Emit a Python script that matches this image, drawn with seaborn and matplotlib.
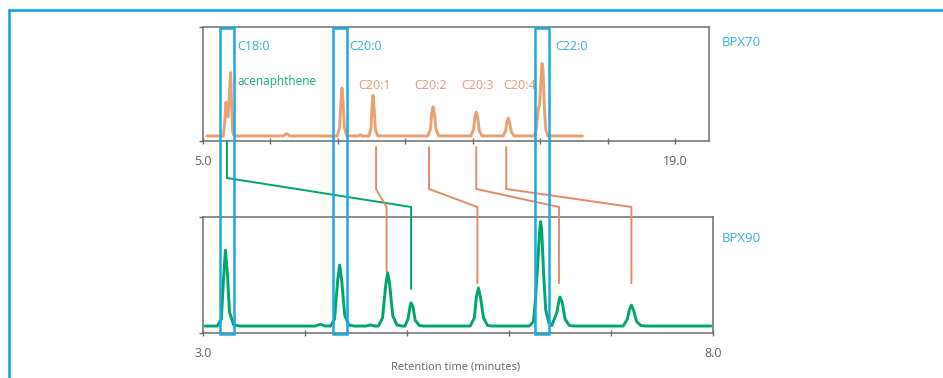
import matplotlib
matplotlib.use("Agg")
import matplotlib.pyplot as plt
import matplotlib.transforms as mtransforms
from matplotlib.lines import Line2D
from matplotlib.patches import Rectangle
import pandas as pd
import seaborn as sns

# ---------------- data ----------------
# BPX70 chromatogram (retention time in minutes, relative signal)
bpx70_time = [5.12, 5.60, 5.64, 5.68, 5.71, 5.74, 5.78, 5.82, 5.85, 5.88, 5.92,
              7.38, 7.45, 7.49, 7.55, 7.62,
              8.98, 9.05, 9.09, 9.12, 9.15, 9.19, 9.26,
              9.60, 9.66, 9.72,
              9.92, 9.98, 10.01, 10.04, 10.07, 10.11, 10.18,
              11.66, 11.74, 11.78, 11.82, 11.86, 11.91, 11.99,
              12.94, 13.02, 13.06, 13.10, 13.14, 13.19, 13.27,
              13.90, 13.97, 14.01, 14.05, 14.09, 14.14, 14.22,
              14.82, 14.88, 14.94, 14.98, 15.02, 15.05, 15.08, 15.12, 15.16, 15.22,
              16.25]
bpx70_signal = [4.4, 4.4, 15, 34, 26, 21, 40, 60, 30, 8, 4.4,
                4.4, 6, 6.5, 4.8, 4.4,
                4.4, 12, 36, 46.5, 36, 12, 4.6,
                4.4, 5.5, 4.4,
                4.4, 11, 30, 40, 30, 10, 4.5,
                4.4, 10, 24, 30, 24, 10, 4.5,
                4.4, 10, 21, 25.4, 21, 9, 4.5,
                4.4, 9, 17, 20, 16, 8, 4.5,
                4.4, 10, 28, 32, 55, 68, 62, 30, 10, 4.5,
                4.4]

# BPX90 chromatogram
bpx90_time = [3.02, 3.14, 3.18, 3.20, 3.22, 3.24, 3.26, 3.30, 3.36,
              4.10, 4.15, 4.20,
              4.25, 4.29, 4.32, 4.34, 4.36, 4.39, 4.43, 4.48,
              4.60, 4.64, 4.68,
              4.72, 4.76, 4.79, 4.81, 4.83, 4.86, 4.90, 4.95,
              4.98, 5.01, 5.03, 5.04, 5.06, 5.08, 5.12, 5.16,
              5.62, 5.66, 5.68, 5.70, 5.72, 5.75, 5.79, 5.84,
              6.20, 6.24, 6.26, 6.28, 6.30, 6.31, 6.32, 6.34, 6.36, 6.39, 6.42,
              6.47, 6.49, 6.50, 6.52, 6.55, 6.59, 6.64,
              7.12, 7.16, 7.18, 7.20, 7.22, 7.25, 7.29, 7.34,
              7.98]
bpx90_signal = [6, 6, 12, 45, 71.5, 50, 18, 7, 6,
                6, 7.5, 6,
                6, 12, 45, 58.6, 45, 15, 7, 6,
                6, 7, 6,
                6, 13, 40, 52, 42, 15, 7, 6,
                6, 12, 23, 26, 22, 11, 6.5, 6,
                6, 13, 31, 38.8, 31, 13, 6.5, 6,
                6, 10, 30, 57, 88, 96, 90, 50, 20, 9, 6.5,
                18, 28, 31, 27, 12, 6.5, 6,
                6, 12, 20, 24, 20, 10, 6.5, 6,
                6]

# axis ticks
bpx70_ticks = [5, 7, 9, 11, 13, 15, 17, 19]
bpx70_ticklabels = ["5.0", "", "", "", "", "", "", "19.0"]
bpx90_ticks = [3, 4, 5, 6, 7, 8]
bpx90_ticklabels = ["3.0", "", "", "", "", "8.0"]

# highlighted saturated FAMEs (boxes, BPX70 time window in minutes)
box_names = ["C18:0", "C20:0", "C22:0"]
box_start = [5.50, 8.86, 14.85]
box_end = [5.92, 9.27, 15.27]
box_label_time = [6.01, 9.33, 15.44]

# unsaturated FAMEs + acenaphthene, labels on BPX70
peak_names = ["acenaphthene", "C20:1", "C20:2", "C20:3", "C20:4"]
peak_label_time = [6.01, 10.09, 11.73, 13.14, 14.39]
peak_label_signal = [52, 49, 49, 49, 49]
# connector: peak time on BPX70 -> peak time on BPX90
conn_bpx70_time = [5.71, 10.13, 11.70, 13.10, 13.99]
conn_bpx90_time = [5.04, 4.80, 5.69, 6.49, 7.20]
conn_bpx90_end = [38, 52.6, 43, 43, 43]

# ---------------- style ----------------
ORANGE = "#E8A272"
ORANGE_TXT = "#E8967A"
ORANGE_LINE = "#E38C6A"
GREEN = "#00A66E"
GREEN_TXT = "#1AAA78"
BLUE = "#1AA9E1"
BLUE_TXT = "#33B0E0"
FRAME = "#0A9FDC"
SPINE = "#6E6E6E"
GREY_TXT = "#626262"

sns.set_theme(style="white")
plt.rcParams['font.family'] = ['Open Sans', 'DejaVu Sans']

W, H = 943, 378
fig = plt.figure(figsize=(W / 100, H / 100), dpi=100)
ax1 = fig.add_axes([203 / W, 1 - 141 / H, 506 / W, 114 / H])
ax2 = fig.add_axes([203 / W, 1 - 333 / H, 510 / W, 116 / H])

df70 = pd.DataFrame({"time": bpx70_time, "signal": bpx70_signal})
df90 = pd.DataFrame({"time": bpx90_time, "signal": bpx90_signal})
sns.lineplot(data=df70, x="time", y="signal", ax=ax1, color=ORANGE, lw=2.1,
             estimator=None, sort=False)
sns.lineplot(data=df90, x="time", y="signal", ax=ax2, color=GREEN, lw=2.1,
             estimator=None, sort=False)

for ax, lim, ticks, labels in [(ax1, (5, 20), bpx70_ticks, bpx70_ticklabels),
                               (ax2, (3, 8), bpx90_ticks, bpx90_ticklabels)]:
    ax.set_xlim(*lim)
    ax.set_ylim(0, 100)
    ax.set_xticks(ticks)
    ax.set_xticklabels(labels)
    ax.set_yticks([0, 100])
    ax.set_yticklabels([])
    ax.set_xlabel("")
    ax.set_ylabel("")
    ax.tick_params(axis="x", bottom=True, direction="inout", length=4, width=1,
                   color=SPINE, labelcolor=GREY_TXT, labelsize=9, pad=8)
    ax.tick_params(axis="y", left=True, direction="out", length=3, width=1,
                   color=SPINE)
    for sp in ax.spines.values():
        sp.set_visible(True)
        sp.set_color(SPINE)
        sp.set_linewidth(1.1)
    ax.set_facecolor("none")

# labels on BPX70
for name, t in zip(box_names, box_label_time):
    ax1.text(t, 83, name, color=BLUE_TXT, fontsize=9, ha="left", va="center")
for i, (name, t, s) in enumerate(zip(peak_names, peak_label_time, peak_label_signal)):
    if i == 0:
        ax1.text(t, s, name, color=GREEN_TXT, fontsize=8.5, ha="left", va="center")
    else:
        ax1.text(t, s, name, color=ORANGE_TXT, fontsize=9, ha="center", va="center")

fig.text(722 / W, 1 - 42 / H, "BPX70", color=BLUE_TXT, fontsize=9.5,
         ha="left", va="center")
fig.text(722 / W, 1 - 238 / H, "BPX90", color=BLUE_TXT, fontsize=9.5,
         ha="left", va="center")
fig.text(456 / W, 1 - 367 / H, "Retention time (minutes)", color=GREY_TXT,
         fontsize=8, ha="center", va="center")

# highlight boxes spanning both chromatograms
blend = mtransforms.blended_transform_factory(ax1.transData, fig.transFigure)
y_lo, y_hi = 1 - 334 / H, 1 - 28 / H
for x0, x1 in zip(box_start, box_end):
    r = Rectangle((x0, y_lo), x1 - x0, y_hi - y_lo, fill=False, ec=BLUE,
                  lw=1.8, transform=blend, clip_on=False, zorder=5)
    fig.add_artist(r)

# connectors
for i, (tt, tb, endv) in enumerate(zip(conn_bpx70_time, conn_bpx90_time, conn_bpx90_end)):
    col = GREEN if i == 0 else ORANGE_LINE
    start_val = 0 if i == 0 else -5.3
    bend1 = 178 if i == 0 else 189
    bend2 = 207
    xt, yt = ax1.transData.transform((tt, start_val))
    xb, yb = ax2.transData.transform((tb, endv))
    xs = [xt / W, xt / W, xb / W, xb / W]
    ys = [yt / H, 1 - bend1 / H, 1 - bend2 / H, yb / H]
    fig.add_artist(Line2D(xs, ys, transform=fig.transFigure, color=col, lw=1.4,
                          solid_joinstyle="miter", zorder=4))

# outer frame (top and left rules)
fig.add_artist(Line2D([8.5 / W, 1.0], [1 - 10 / H, 1 - 10 / H],
                      transform=fig.transFigure, color=FRAME, lw=1.8))
fig.add_artist(Line2D([8.5 / W, 8.5 / W], [0, 1 - 10 / H],
                      transform=fig.transFigure, color=FRAME, lw=1.8))

fig.savefig("out.png", dpi=100, facecolor="white")
